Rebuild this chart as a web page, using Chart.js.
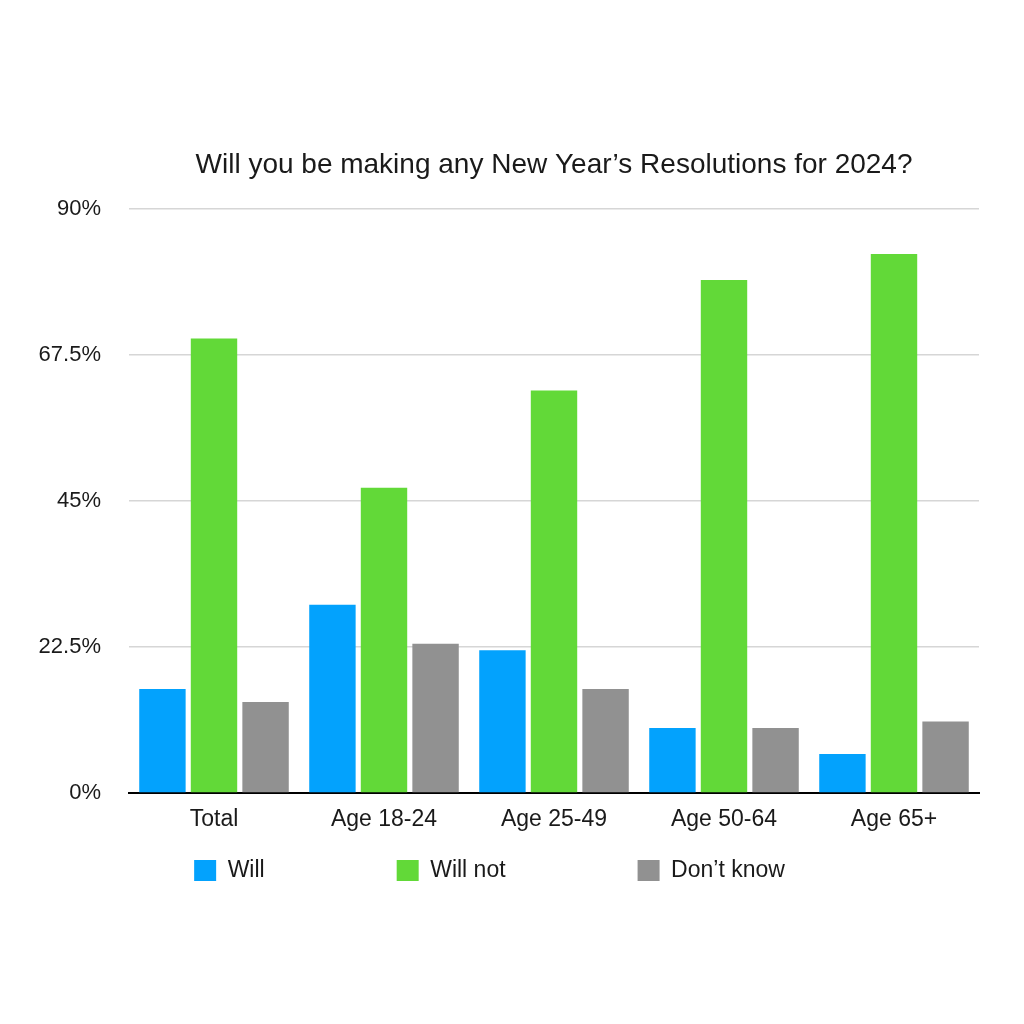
<!DOCTYPE html>
<html>
<head>
<meta charset="utf-8">
<title>New Year's Resolutions 2024</title>
<script src="https://cdn.jsdelivr.net/npm/chart.js@4.4.1/dist/chart.umd.min.js"></script>
<style>
  html, body { margin: 0; padding: 0; background: #fff; }
  canvas { display: block; }
</style>
</head>
<body>
<canvas id="resolutions" width="1024" height="1024"></canvas>
<script>
const categories = ["Total", "Age 18-24", "Age 25-49", "Age 50-64", "Age 65+"];
const will = [16, 29, 22, 10, 6];
const willNot = [70, 47, 62, 79, 83];
const dontKnow = [14, 23, 16, 10, 11];
const yTicks = [0, 22.5, 45, 67.5, 90];

const textColor = "#1a1a1a";
const fontFamily = "'Liberation Sans', Arial, Helvetica, sans-serif";

// legend item row sits well below the chart, with wide gaps between items
const legendRowTop = 859;
const legendGap = 132;

const legendPlacer = {
  id: "legendPlacer",
  afterLayout(chart) {
    const legend = chart.legend;
    if (!legend) return;
    legend.top = legendRowTop - legendGap;
    legend.height = legend.bottom - legend.top;
  },
};

const ctx = document.getElementById("resolutions").getContext("2d");

new Chart(ctx, {
  type: "bar",
  data: {
    labels: categories,
    datasets: [
      { label: "Will", data: will, backgroundColor: "#03a2fd" },
      { label: "Will not", data: willNot, backgroundColor: "#62d938" },
      { label: "Don\u2019t know", data: dontKnow, backgroundColor: "#919191" },
    ],
  },
  options: {
    responsive: false,
    animation: false,
    categoryPercentage: 0.91,
    barPercentage: 0.9,
    layout: {
      padding: { top: 140, left: 0, right: 45, bottom: 131 },
    },
    plugins: {
      title: {
        display: true,
        fullSize: false,
        text: "Will you be making any New Year\u2019s Resolutions for 2024?",
        color: textColor,
        font: { family: fontFamily, size: 28, weight: "normal" },
        padding: { top: 8, bottom: 27 },
      },
      legend: {
        position: "bottom",
        maxHeight: 60,
        labels: {
          color: textColor,
          font: { family: fontFamily, size: 23 },
          boxWidth: 22,
          boxHeight: 21,
          padding: legendGap,
        },
      },
      tooltip: { enabled: false },
    },
    scales: {
      x: {
        grid: { display: false, drawTicks: false },
        border: { display: true, color: "#000", width: 2 },
        ticks: {
          color: textColor,
          font: { family: fontFamily, size: 23 },
          padding: 13,
        },
        afterFit(scale) {
          scale.height = 40;
        },
      },
      y: {
        min: 0,
        max: 90,
        grid: {
          drawTicks: false,
          color: (c) => (c.tick && c.tick.value === 0 ? "rgba(0,0,0,0)" : "#d6d6d6"),
          lineWidth: 1.5,
        },
        border: { display: false },
        afterBuildTicks(scale) {
          scale.ticks = yTicks.map((v) => ({ value: v }));
        },
        ticks: {
          color: textColor,
          font: { family: fontFamily, size: 22 },
          padding: 28,
          callback: (v) => v + "%",
        },
        afterFit(scale) {
          scale.width = 129;
        },
      },
    },
  },
  plugins: [legendPlacer],
});
</script>
</body>
</html>
